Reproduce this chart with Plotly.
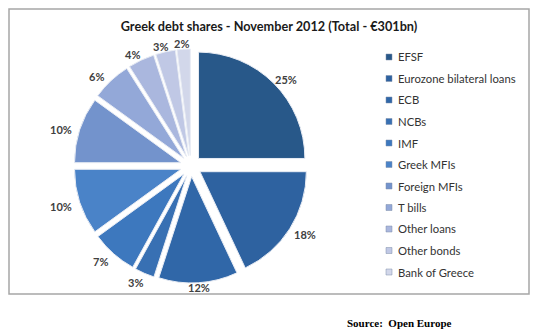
import math
import plotly.graph_objects as go

categories = ["EFSF", "Eurozone bilateral loans", "ECB", "NCBs", "IMF", "Greek MFIs",
              "Foreign MFIs", "T bills", "Other loans", "Other bonds", "Bank of Greece"]
shares = [25, 18, 12, 3, 7, 10, 10, 6, 4, 3, 2]
colors = ["#285889", "#2e62a0", "#3067a8", "#3870b3", "#3d78be", "#4a83c8",
          "#7393cc", "#93a8d8", "#aab7de", "#c0c8e5", "#d2d7ea"]

W, H = 540, 335
CX, CY = 191, 166      # pie centre in pixels
HALF = 117             # half size of pie domain in pixels
LCX, LCY = 190, 168    # centre of label ellipse
RX, RY = 136, 125      # label radii in pixels
LABEL_YMAX = 287       # keep labels inside the frame

fig = go.Figure(go.Pie(
    labels=categories,
    values=shares,
    sort=False,
    direction="clockwise",
    rotation=0,
    pull=[0.1] * len(shares),
    marker=dict(colors=colors, line=dict(color="#e8ecf4", width=1)),
    textinfo="none",
    domain=dict(x=[(CX - HALF) / W, (CX + HALF) / W],
                y=[1 - (CY + HALF) / H, 1 - (CY - HALF) / H]),
    hoverinfo="label+percent",
    showlegend=False,
))

annotations = []
shapes = []

# percentage labels placed around the pie from the data
total = sum(shares)
cum = 0
for v in shares:
    mid = (cum + v / 2) / total * 2 * math.pi
    cum += v
    px = LCX + RX * math.sin(mid)
    py = min(LCY - RY * math.cos(mid), LABEL_YMAX)
    annotations.append(dict(text=f"<b>{v}%</b>", xref="paper", yref="paper",
                            x=px / W, y=1 - py / H, xanchor="center", yanchor="middle",
                            showarrow=False,
                            font=dict(family="Lato", size=11, color="#404040")))

# legend
LX, LY0, LDY = 396, 57, 21.5
for i, (name, col) in enumerate(zip(categories, colors)):
    y = LY0 + LDY * i
    shapes.append(dict(type="rect", xref="paper", yref="paper",
                       x0=(LX - 10) / W, x1=(LX - 4) / W,
                       y0=1 - (y + 3) / H, y1=1 - (y - 3) / H,
                       fillcolor=col, line=dict(color="#7f8fa8", width=0.5)))
    annotations.append(dict(text=name, xref="paper", yref="paper",
                            x=LX / W, y=1 - y / H, xanchor="left", yanchor="middle",
                            showarrow=False,
                            font=dict(family="Lato", size=11.3, color="#333333")))

shapes.append(dict(type="rect", xref="paper", yref="paper",
                   x0=9 / W, x1=529 / W, y0=1 - 294 / H, y1=1 - 9 / H,
                   line=dict(color="#a6a6a6", width=1.5)))

annotations.append(dict(text="<b>Source:  Open Europe</b>", xref="paper", yref="paper",
                        x=345 / W, y=1 - 323 / H, xanchor="left", yanchor="middle",
                        showarrow=False,
                        font=dict(family="Liberation Serif", size=11, color="#000000")))

fig.update_layout(
    width=W, height=H,
    margin=dict(l=0, r=0, t=0, b=0),
    paper_bgcolor="white",
    plot_bgcolor="white",
    title=dict(text="<b>Greek debt shares - November 2012 (Total - €301bn)</b>",
               x=269 / W, xanchor="center", y=1 - 27 / H, yanchor="middle",
               font=dict(family="Lato", size=12.7, color="#1a1a1a")),
    showlegend=False,
    shapes=shapes,
    annotations=annotations,
)

fig.write_html("out.html")
